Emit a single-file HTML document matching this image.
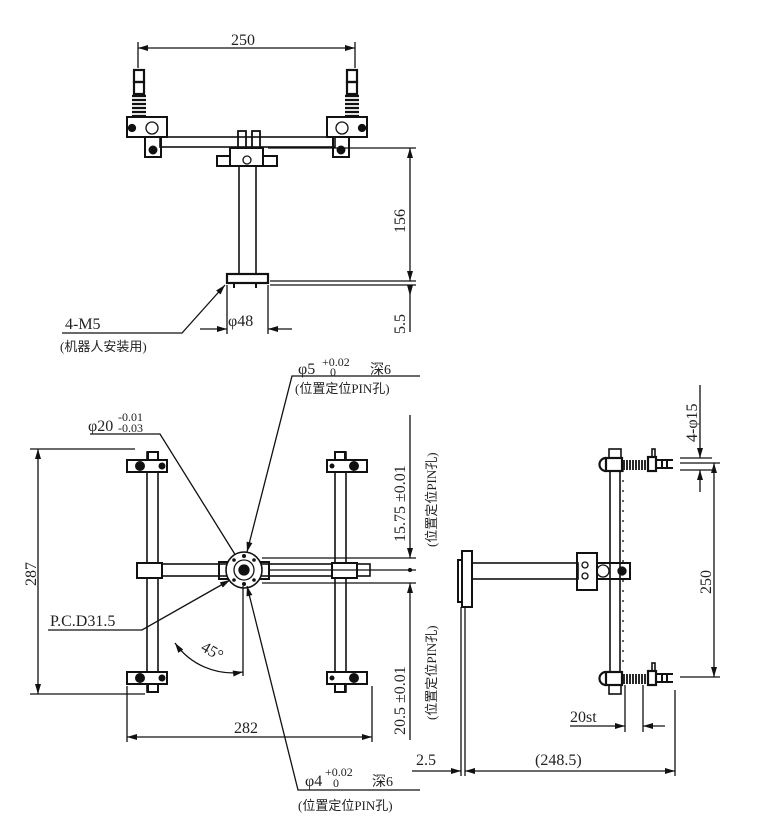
<!DOCTYPE html>
<html><head><meta charset="utf-8"><style>
html,body{margin:0;padding:0;background:#fff}
svg{display:block}
text{font-family:"Liberation Serif","Noto Serif CJK SC",serif;fill:#222;font-size:16px}
.s{font-family:"Liberation Serif","Noto Sans CJK SC",sans-serif;font-size:13px}
</style></head><body>
<svg width="779" height="833" viewBox="0 0 779 833" xmlns="http://www.w3.org/2000/svg" stroke="#111" fill="none" stroke-width="1.3">
<defs>
<marker id="a" viewBox="0 0 10 6" refX="10" refY="3" markerWidth="11" markerHeight="6" orient="auto-start-reverse" markerUnits="userSpaceOnUse"><path d="M0,0L10,3L0,6z" fill="#111" stroke="none"/></marker>
</defs>

<!-- ============ TOP VIEW ============ -->
<line x1="138" y1="48" x2="355" y2="48" marker-start="url(#a)" marker-end="url(#a)"/>
<line x1="138" y1="42" x2="138" y2="68"/><line x1="355" y1="42" x2="355" y2="68"/>
<text x="231" y="45" stroke="none">250</text>
<!-- cups/springs -->
<g stroke-width="2.2">
<rect x="134" y="70" width="10" height="12"/><rect x="134" y="82" width="10" height="12"/>
<path d="M132,96h14M132,100h14M132,104h14M132,108h14M132,112h14M132,116h14"/>
<rect x="347" y="70" width="10" height="12"/><rect x="347" y="82" width="10" height="12"/>
<path d="M345,96h14M345,100h14M345,104h14M345,108h14M345,112h14M345,116h14"/>
</g>
<!-- cross bar -->
<rect x="160" y="137" width="175" height="10" stroke-width="1.6"/>
<!-- left clamp -->
<rect x="127" y="117" width="40" height="20" stroke-width="2"/>
<circle cx="152" cy="128" r="6"/><circle cx="132" cy="128" r="3.5" fill="#111"/>
<rect x="145" y="137" width="16" height="20" stroke-width="2"/><circle cx="153" cy="150" r="3.8" fill="#111"/>
<!-- right clamp -->
<rect x="327" y="117" width="40" height="20" stroke-width="2"/>
<circle cx="342" cy="128" r="6"/><circle cx="362" cy="128" r="3.5" fill="#111"/>
<rect x="333" y="137" width="16" height="20" stroke-width="2"/><circle cx="341" cy="150" r="3.8" fill="#111"/>
<!-- center block -->
<rect x="238" y="131" width="8" height="17" stroke-width="1.8"/><rect x="252" y="131" width="8" height="17" stroke-width="1.8"/>
<rect x="217" y="156" width="60" height="10" stroke-width="2"/>
<rect x="230" y="148" width="33" height="18" stroke-width="2" fill="#fff"/>
<circle cx="247" cy="160" r="4"/>
<!-- column -->
<rect x="239" y="166" width="17" height="108" stroke-width="1.6"/>
<rect x="227" y="274" width="41" height="9" stroke-width="2.2"/>
<path d="M234,283v5M256,283v5" stroke-width="2"/>
<!-- 156 / 5.5 dims -->
<line x1="268" y1="148" x2="416" y2="148"/>
<line x1="270" y1="281" x2="416" y2="281"/><line x1="270" y1="285" x2="416" y2="285"/>
<line x1="410" y1="148" x2="410" y2="281" marker-start="url(#a)" marker-end="url(#a)"/>
<line x1="410" y1="285" x2="410" y2="332"/>
<path d="M410,296l-3,-11h6z" fill="#111" stroke="none"/>
<text transform="translate(405,233) rotate(-90)" stroke="none">156</text>
<text transform="translate(405,334) rotate(-90)" stroke="none">5.5</text>
<!-- phi48 -->
<line x1="227" y1="285" x2="227" y2="334"/><line x1="268" y1="285" x2="268" y2="334"/>
<line x1="200" y1="329" x2="227" y2="329" marker-end="url(#a)"/><line x1="268" y1="329" x2="292" y2="329" marker-start="url(#a)"/>
<text x="228" y="326" stroke="none">φ48</text>
<!-- 4-M5 -->
<polyline points="225,285 182,333 62,333" marker-start="url(#a)"/>
<text x="65" y="329" stroke="none">4-M5</text>
<text x="60" y="351" class="s" stroke="none">(机器人安装用)</text>

<!-- ============ BOTTOM-LEFT VIEW ============ -->
<text x="298" y="374" stroke="none">φ5</text>
<text x="322" y="366" stroke="none" style="font-size:12px">+0.02</text>
<text x="330" y="376" stroke="none" style="font-size:12px">0</text>
<text x="370" y="374" stroke="none" class="s" style="font-size:14px">深6</text>
<text x="295" y="393" class="s" stroke="none">(位置定位PIN孔)</text>
<polyline points="420,376 292,376 247,552" marker-end="url(#a)"/>
<text x="88" y="431" stroke="none">φ20</text>
<text x="118" y="421" stroke="none" style="font-size:12px">-0.01</text>
<text x="118" y="432" stroke="none" style="font-size:12px">-0.03</text>
<polyline points="90,434 160,434 236,556"/>
<!-- 287 -->
<line x1="30" y1="449" x2="135" y2="449"/><line x1="30" y1="694" x2="145" y2="694"/>
<line x1="38" y1="449" x2="38" y2="694" marker-start="url(#a)" marker-end="url(#a)"/>
<text transform="translate(36,586) rotate(-90)" stroke="none">287</text>
<!-- vertical bars -->
<rect x="147" y="452" width="11" height="240" stroke-width="1.6"/>
<rect x="335" y="452" width="11" height="240" stroke-width="1.6"/>
<!-- horizontal bar -->
<rect x="140" y="564" width="230" height="12" stroke-width="1.6"/>
<rect x="137" y="563" width="25" height="15" stroke-width="2" fill="#fff"/>
<rect x="332" y="563" width="25" height="15" stroke-width="2" fill="#fff"/>
<rect x="219" y="562" width="13" height="17" stroke-width="2"/><rect x="256" y="562" width="13" height="17" stroke-width="2"/>
<!-- flange -->
<circle cx="244" cy="570" r="18" fill="#fff" stroke-width="1.6"/>
<circle cx="244" cy="570" r="10"/><circle cx="244" cy="570" r="5" fill="#111"/>
<g fill="#111" stroke="none"><circle cx="244" cy="556" r="2"/><circle cx="244" cy="584" r="2"/><circle cx="234" cy="560" r="1.8"/><circle cx="254" cy="560" r="1.8"/><circle cx="234" cy="580" r="1.8"/><circle cx="254" cy="580" r="1.8"/></g>
<!-- corner clamps -->
<g stroke-width="2">
<rect x="127" y="460" width="40" height="12" fill="#fff"/><rect x="148" y="452" width="10" height="8"/><circle cx="140" cy="466" r="4" fill="#111"/><circle cx="162" cy="466" r="2.5" fill="#111"/>
<rect x="127" y="672" width="40" height="12" fill="#fff"/><rect x="148" y="684" width="10" height="8"/><circle cx="140" cy="678" r="4" fill="#111"/><circle cx="162" cy="678" r="2.5" fill="#111"/>
<rect x="327" y="460" width="40" height="12" fill="#fff"/><rect x="335" y="452" width="10" height="8"/><circle cx="354" cy="466" r="4" fill="#111"/><circle cx="332" cy="466" r="1.5" fill="#111"/>
<rect x="327" y="672" width="40" height="12" fill="#fff"/><rect x="335" y="684" width="10" height="8"/><circle cx="354" cy="678" r="4" fill="#111"/><circle cx="332" cy="678" r="1.5" fill="#111"/>
</g>
<!-- PCD -->
<polyline points="48,630 142,630 230,580" marker-end="url(#a)"/>
<text x="50" y="626" stroke="none">P.C.D31.5</text>
<!-- 45 -->
<line x1="243" y1="586" x2="243" y2="676"/>
<path d="M175,643 A70,70 0 0 0 243,672" marker-start="url(#a)" marker-end="url(#a)"/>
<text transform="translate(200,650) rotate(30)" stroke="none">45°</text>
<!-- 282 -->
<line x1="127" y1="686" x2="127" y2="742"/><line x1="372" y1="686" x2="372" y2="742"/>
<line x1="127" y1="737" x2="372" y2="737" marker-start="url(#a)" marker-end="url(#a)"/>
<text x="234" y="733" stroke="none">282</text>
<!-- right dims -->
<line x1="262" y1="558" x2="416" y2="558"/><line x1="270" y1="570" x2="416" y2="570"/><line x1="262" y1="583" x2="416" y2="583"/>
<line x1="410" y1="415" x2="410" y2="558" marker-end="url(#a)"/>
<line x1="410" y1="583" x2="410" y2="740" marker-start="url(#a)"/>
<circle cx="410" cy="570" r="1.5" fill="#111"/>
<text transform="translate(405,542) rotate(-90)" stroke="none">15.75 ±0.01</text>
<text transform="translate(436,547) rotate(-90)" class="s" stroke="none">(位置定位PIN孔)</text>
<text transform="translate(405,735) rotate(-90)" stroke="none">20.5 ±0.01</text>
<text transform="translate(436,720) rotate(-90)" class="s" stroke="none">(位置定位PIN孔)</text>
<!-- phi4 -->
<polyline points="420,790 298,790 247,586" marker-end="url(#a)"/>
<text x="305" y="786" stroke="none">φ4</text>
<text x="325" y="776" stroke="none" style="font-size:12px">+0.02</text>
<text x="333" y="787" stroke="none" style="font-size:12px">0</text>
<text x="372" y="786" stroke="none" class="s" style="font-size:14px">深6</text>
<text x="298" y="810" class="s" stroke="none">(位置定位PIN孔)</text>

<!-- ============ SIDE VIEW ============ -->
<rect x="462" y="551" width="10" height="56" stroke-width="2"/>
<rect x="458" y="560" width="4" height="42" stroke-width="2"/>
<line x1="461" y1="607" x2="461" y2="776"/><line x1="465" y1="607" x2="465" y2="776"/>
<rect x="472" y="563" width="106" height="16" stroke-width="1.6"/>
<rect x="577" y="553" width="20" height="37" stroke-width="2"/>
<circle cx="585" cy="565" r="3"/><circle cx="585" cy="576" r="3"/>
<rect x="597" y="563" width="33" height="16" stroke-width="2"/>
<circle cx="603" cy="571" r="6"/><circle cx="622" cy="571" r="4" fill="#111"/>
<rect x="610" y="463" width="10" height="217" stroke-width="1.6"/>
<line x1="623" y1="470" x2="623" y2="670" stroke-dasharray="2,8"/>
<!-- top cup -->
<rect x="609" y="449" width="12" height="9" stroke-width="1.6"/>
<rect x="606" y="458" width="16" height="13" stroke-width="2.2" fill="#fff"/>
<path d="M606,458a6,6 0 0 0 0,13" stroke-width="2.2"/>
<path d="M624,460v10M627,460v10M630,460v10M633,460v10M636,460v10M639,460v10M642,460v10M645,460v10" stroke-width="1.8"/>
<rect x="648" y="457" width="8" height="14" stroke-width="2.2"/><rect x="652" y="449" width="3" height="8" stroke-width="1.6"/>
<path d="M656,460h17M656,468h17M662,460v8M667,460v8" stroke-width="2"/>
<!-- bottom cup -->
<rect x="609" y="685" width="12" height="9" stroke-width="1.6"/>
<rect x="606" y="672" width="16" height="13" stroke-width="2.2" fill="#fff"/>
<path d="M606,672a6,6 0 0 0 0,13" stroke-width="2.2"/>
<path d="M624,674v10M627,674v10M630,674v10M633,674v10M636,674v10M639,674v10M642,674v10M645,674v10" stroke-width="1.8"/>
<rect x="648" y="671" width="8" height="14" stroke-width="2.2"/><rect x="652" y="663" width="3" height="8" stroke-width="1.6"/>
<path d="M656,674h17M656,682h17M662,674v8M667,674v8" stroke-width="2"/>
<!-- 250 / 4-phi15 -->
<line x1="680" y1="458" x2="712" y2="458"/><line x1="680" y1="470" x2="712" y2="470"/>
<line x1="680" y1="463" x2="720" y2="463"/><line x1="680" y1="677" x2="720" y2="677"/>
<line x1="714" y1="463" x2="714" y2="677" marker-start="url(#a)" marker-end="url(#a)"/>
<line x1="700" y1="385" x2="700" y2="458" marker-end="url(#a)"/>
<line x1="700" y1="470" x2="700" y2="492" marker-start="url(#a)"/>
<text transform="translate(697,442) rotate(-90)" stroke="none">4-φ15</text>
<text transform="translate(711,594) rotate(-90)" stroke="none">250</text>
<!-- 20st -->
<line x1="625" y1="685" x2="625" y2="732"/><line x1="643" y1="685" x2="643" y2="732"/>
<line x1="570" y1="726" x2="625" y2="726" marker-end="url(#a)"/>
<line x1="643" y1="726" x2="665" y2="726" marker-start="url(#a)"/>
<text x="570" y="722" stroke="none">20st</text>
<!-- 248.5 / 2.5 -->
<line x1="675" y1="690" x2="675" y2="776"/>
<line x1="465" y1="771" x2="675" y2="771" marker-start="url(#a)" marker-end="url(#a)"/>
<line x1="412" y1="771" x2="461" y2="771" marker-end="url(#a)"/>
<text x="535" y="765" stroke="none">(248.5)</text>
<text x="416" y="765" stroke="none">2.5</text>
</svg>
</body></html>
